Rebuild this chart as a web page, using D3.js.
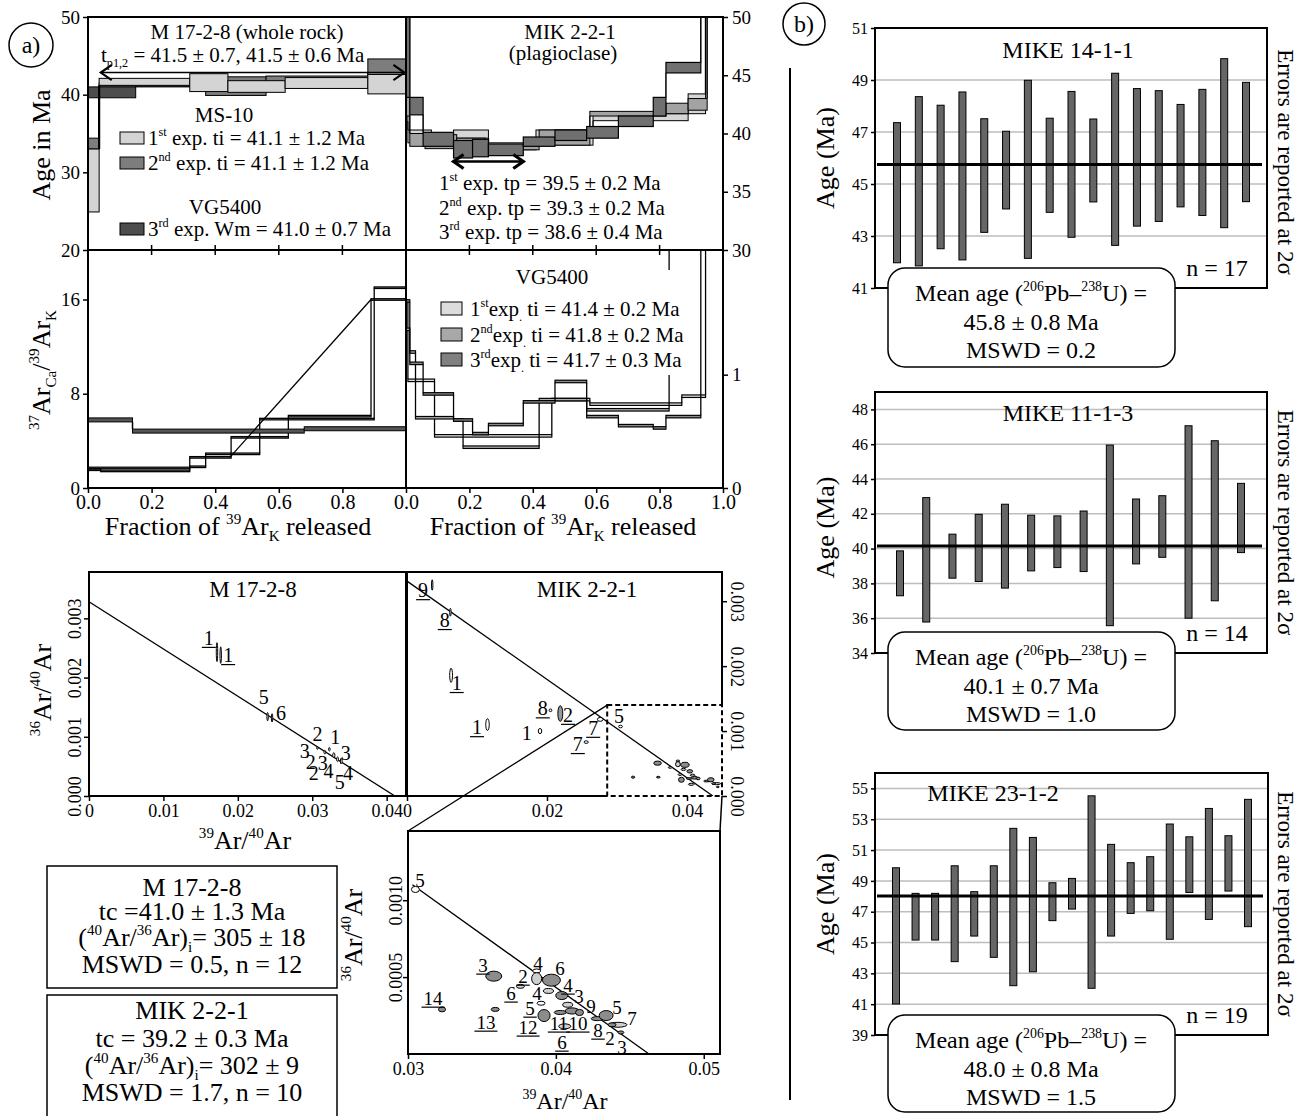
<!DOCTYPE html>
<html><head><meta charset="utf-8">
<script src="https://cdn.jsdelivr.net/npm/d3@7"></script>
<style>body{margin:0;background:#fff}</style>
</head><body>
<script>
// ================= DATA =================
// a) top-left: 40Ar/39Ar age spectra, M 17-2-8 (whole rock) — step edges (fraction 39Ar) and age lo/hi (Ma)
const ageWR_e1 = [0, 0.035, 0.32, 0.44, 0.62, 0.88, 1.0];
const ageWR_lo1 = [24.9, 41.2, 40.4, 40.3, 40.8, 40.1];
const ageWR_hi1 = [33.0, 42.1, 42.7, 41.8, 42.2, 42.6];
const ageWR_e2 = [0, 0.035, 0.37, 0.56, 0.88, 1.0];
const ageWR_lo2 = [33.0, 41.1, 39.9, 41.3, 42.8];
const ageWR_hi2 = [34.4, 41.5, 42.3, 42.4, 44.6];
const ageWR_e3 = [0, 0.15, 1.0];
const ageWR_lo3 = [39.6, 41.0];
const ageWR_hi3 = [41.0, 41.3];
const plateauWR = [0.04, 0.995];
const plateauWRAge = 42.85;

// a) top-right: MIK 2-2-1 (plagioclase)
const ageMik_e1 = [0, 0.006, 0.08, 0.15, 0.26, 0.41, 0.59, 0.89, 0.945, 1];
const ageMik_lo1 = [41.0, 39.2, 38.9, 39.6, 38.6, 39.0, 41.1, 41.7, 50.5];
const ageMik_hi1 = [60, 40.3, 39.6, 40.3, 39.2, 40.3, 41.7, 43.4, 60];
const ageMik_e2 = [0, 0.012, 0.06, 0.16, 0.25, 0.42, 0.58, 0.82, 0.89, 0.95, 1];
const ageMik_lo2 = [41.5, 38.9, 38.7, 38.3, 38.6, 39.0, 41.5, 41.7, 42.0, 50.5];
const ageMik_hi2 = [60, 40.0, 39.9, 39.6, 39.0, 40.3, 41.9, 42.6, 43.0, 60];
const ageMik_e3 = [0, 0.012, 0.054, 0.15, 0.21, 0.26, 0.37, 0.47, 0.57, 0.67, 0.78, 0.82, 0.93, 1];
const ageMik_lo3 = [43.1, 41.6, 38.9, 37.9, 38.0, 38.1, 38.9, 39.4, 39.6, 40.6, 41.5, 45.2, 50.5];
const ageMik_hi3 = [60, 43.1, 40.1, 39.4, 39.5, 39.1, 39.7, 40.3, 40.6, 41.5, 43.1, 46.1, 60];
const plateauMik = [0.15, 0.37];
const plateauMikAge = 37.6;

// a) 37ArCa/39ArK spectra
const caWR_eA = [0, 0.04, 0.32, 0.45, 0.63, 0.89, 1.0];
const caWR_vA = [1.55, 1.45, 2.6, 4.3, 6.1, 16.0];
const caWR_eB = [0, 0.32, 0.37, 0.54, 0.90, 1.0];
const caWR_vB = [1.7, 1.8, 2.9, 5.85, 17.0];
const caWR_eC = [0, 0.14, 0.68, 1.0];
const caWR_vC = [5.78, 4.83, 5.03];
const caWR_diagX = [0.446, 0.89];
const caWR_diagY = [2.6, 16.0];
const caMik_e1 = [0, 0.006, 0.09, 0.46, 0.58, 0.87, 0.945, 1];
const caMik_v1 = [1.65, 0.95, 0.46, 0.78, 0.74, 0.81, 3.0];
const caMik_e2 = [0, 0.012, 0.03, 0.15, 0.18, 0.42, 0.57, 0.83, 1];
const caMik_v2 = [1.4, 1.2, 0.62, 0.6, 0.36, 0.78, 0.69, 3.0];
const caMik_e3 = [0, 0.012, 0.054, 0.15, 0.21, 0.26, 0.37, 0.47, 0.57, 0.67, 0.78, 0.82, 0.93, 1];
const caMik_v3 = [1.65, 1.1, 0.83, 0.6, 0.48, 0.56, 0.76, 0.94, 0.63, 0.55, 0.53, 0.63, 3.0];

// a) inverse isochrons
const isoL_x = [0.0172, 0.0177, 0.0240, 0.0246, 0.0307, 0.0317, 0.0323, 0.0329, 0.0334, 0.0339];
const isoL_y = [0.00243, 0.00238, 0.00134, 0.00132, 0.00081, 0.00074, 0.00079, 0.00069, 0.00062, 0.00059];
const isoL_ex = [0.00008, 0.00008, 0.00008, 0.00008, 0.0001, 0.00012, 0.0001, 0.00015, 0.00012, 0.00012];
const isoL_ey = [0.00016, 0.00014, 0.00007, 0.00007, 0.00002, 0.00003, 0.00003, 0.00004, 0.00004, 0.00005];
const isoL_lab = ['1','1','5','6','2','1','3','3','2','3','2','4','4','5'];
const isoL_lx = [0.0161,0.0187,0.0235,0.0258,0.0307,0.0331,0.0290,0.0345,0.0298,0.0314,0.0302,0.0322,0.0348,0.0337];
const isoL_ly = [0.00267,0.00238,0.00167,0.00140,0.00105,0.00100,0.00076,0.00073,0.00057,0.00056,0.00039,0.00042,0.00039,0.00024];
const isoL_u = [1,1,0,0,0,0,0,0,0,0,0,0,0,0];
const isoL_line = [[0, 0.00328], [0.0411, 0]];

const isoR_x = [0.0036, 0.0062, 0.0063, 0.0115, 0.0190, 0.0205, 0.0219, 0.0276, 0.0256];
const isoR_y = [0.00325, 0.00283, 0.00186, 0.00110, 0.00100, 0.00132, 0.00127, 0.00118, 0.00083];
const isoR_ex = [0.00007, 0.00006, 0.0002, 0.00025, 0.00025, 0.0002, 0.00035, 0.0004, 0.0003];
const isoR_ey = [0.00008, 0.00006, 0.00011, 0.00009, 0.00004, 0.00002, 0.00012, 0.00003, 0.00002];
const isoR_f = [0, 0, 0, 0, 0, 0, 1, 0, 0];
const isoR_lab = ['9','8','1','1','1','8','2','7','7','5'];
const isoR_lx = [0.0023, 0.0054, 0.0071, 0.0100, 0.0171, 0.0194, 0.0230, 0.0266, 0.0244, 0.0303];
const isoR_ly = [0.00317, 0.00271, 0.00174, 0.00106, 0.00097, 0.00135, 0.00125, 0.00105, 0.00080, 0.00123];
const isoR_u = [1,1,1,1,0,1,1,1,1,0];
const isoR_line = [[0, 0.00331], [0.0437, 0]];
const zoomBox = [[0.0286, 0.0450], [0, 0.0014]];

const ins_x = [0.0305,0.0358,0.0387,0.0387,0.0397,0.0376,0.0395,0.0404,0.0390,0.0408,0.0392,0.0403,0.0411,0.0416,0.0428,0.0434,0.0442,0.0438,0.0444,0.0406,0.0359,0.0323];
const ins_y = [0.00107,0.000506,0.00054,0.00049,0.00048,0.00044,0.00041,0.00038,0.00033,0.00032,0.00025,0.00027,0.00028,0.00027,0.00023,0.00025,0.00019,0.00019,0.00014,0.00018,0.00029,0.00029];
const ins_ex = [0.00027,0.00054,0.00027,0.00034,0.00061,0.00027,0.00034,0.00041,0.00027,0.00034,0.00041,0.00041,0.00047,0.00027,0.00041,0.00047,0.00061,0.00027,0.0002,0.00041,0.00027,0.00024];
const ins_ey = [0.00002,0.0000325,0.000013,0.000039,0.000039,0.000013,0.000016,0.000026,0.000013,0.000016,0.000039,0.000013,0.00002,0.00002,0.000013,0.0000325,0.000016,0.000013,0.00001,0.000016,0.000013,0.000016];
const ins_f = [0,2,0,1,2,1,1,2,0,1,2,2,2,2,2,2,1,2,2,1,2,2];
const ins_lab = ['5','3','4','2','6','6','4','3','4','5','9','5','7','11','10','12','13','14','8','2','3','6'];
const ins_lx = [0.03081,0.03507,0.03879,0.03778,0.04028,0.03697,0.04082,0.04156,0.03872,0.03825,0.04238,0.04413,0.04515,0.04021,0.04150,0.03812,0.03527,0.03169,0.04285,0.04366,0.04447,0.04041];
const ins_ly = [0.00113,0.000579,0.000592,0.000507,0.000559,0.000397,0.000449,0.000377,0.000397,0.000299,0.000312,0.000306,0.000234,0.000202,0.000202,0.000176,0.000208,0.000364,0.000156,0.000104,0.0000455,0.000078];
const ins_u = [0,1,0,1,0,1,1,0,0,1,0,0,0,1,1,1,1,1,1,0,0,1];
const ins_line = [[0.0303, 0.00110], [0.0463, 0]];

// b) U-Pb zircon ages (2σ ranges)
const upb1_lo = [41.97, 41.85, 42.51, 42.08, 43.14, 44.04, 42.14, 43.91, 42.95, 44.31, 42.64, 43.38, 43.56, 44.12, 43.79, 43.32, 44.32];
const upb1_hi = [47.36, 48.36, 48.03, 48.54, 47.51, 47.03, 48.99, 47.53, 48.56, 47.50, 49.26, 48.67, 48.59, 48.06, 48.64, 49.82, 48.91];
const upb1_mean = 45.75;
const upb2_lo = [37.29, 35.78, 38.30, 38.11, 37.73, 38.72, 38.91, 38.68, 35.57, 39.12, 39.50, 36.0, 37.0, 39.77];
const upb2_hi = [39.87, 42.93, 40.83, 41.97, 42.55, 41.92, 41.88, 42.16, 45.95, 42.85, 43.04, 47.06, 46.2, 43.75];
const upb2_mean = 40.15;
const upb3_lo = [41.01, 45.16, 45.16, 43.76, 45.42, 44.04, 42.2, 43.1, 46.42, 47.17, 42.03, 45.42, 46.89, 47.06, 45.21, 48.25, 46.50, 48.34, 46.03];
const upb3_hi = [49.85, 48.19, 48.19, 49.98, 48.30, 49.98, 52.41, 51.82, 48.88, 49.16, 54.52, 51.37, 50.18, 50.57, 52.69, 51.86, 53.70, 51.93, 54.29];
const upb3_mean = 48.02;

// tick values
const ticksAgeWR = [20, 30, 40, 50];
const ticksAgeMik = [30, 35, 40, 45, 50];
const ticksCaWR = [0, 8, 16];
const ticksCaMik = [0, 1];
const ticksFracL = [0, 0.2, 0.4, 0.6, 0.8];
const ticksFracR = [0, 0.2, 0.4, 0.6, 0.8, 1.0];
const ticksIsoLX = [0, 0.01, 0.02, 0.03, 0.04];
const ticksIsoRX = [0, 0.02, 0.04];
const ticksIsoY = [0, 0.001, 0.002, 0.003];
const ticksInsX = [0.03, 0.04, 0.05];
const ticksInsY = [0.0005, 0.0010];

// ================= DRAWING =================
const FONT = '"Liberation Serif","Times New Roman",serif';
const svg = d3.select('body').append('svg').attr('width',1313).attr('height',1116)
  .style('font-family', FONT).style('background','#fff');
const defs = svg.append('defs');
let clipId = 0;
function clipG(x0,y0,x1,y1){
  const id='clip'+(clipId++);
  defs.append('clipPath').attr('id',id).append('rect').attr('x',x0).attr('y',y0).attr('width',x1-x0).attr('height',y1-y0);
  return svg.append('g').attr('clip-path',`url(#${id})`);
}
function rich(g, x, y, segs, size, anchor='middle', rot=0){
  const t = g.append('text').attr('x',x).attr('y',y).attr('font-size',size)
    .attr('text-anchor',anchor).attr('fill','#000').style('white-space','pre');
  if (rot) t.attr('transform',`rotate(${rot},${x},${y})`);
  let cur = 0;
  segs.forEach(s=>{
    const str = Array.isArray(s) ? s[0] : s;
    const kind = Array.isArray(s) ? s[1] : '';
    const target = kind==='sup' ? -0.42*size : kind==='sub' ? 0.22*size : 0;
    const ts = t.append('tspan').text(str);
    if (target!==cur) ts.attr('dy', target-cur);
    if (kind) ts.attr('font-size', (size*0.58).toFixed(1));
    cur = target;
  });
  return t;
}
function drawBoxes(g, boxes, fill, sw, cw){
  g.append('g').selectAll('rect').data(boxes).join('rect')
    .attr('x',d=>d.x0).attr('y',d=>d.yt).attr('width',d=>d.x1-d.x0).attr('height',d=>Math.max(0.5,d.yb-d.yt))
    .attr('fill',fill).attr('stroke','#000').attr('stroke-width',sw);
  const conns=[];
  for(let i=0;i<boxes.length-1;i++){
    const a=boxes[i], b=boxes[i+1];
    if (a.yt > b.yb) conns.push({x:a.x1, y0:a.yt, y1:b.yb});
    else if (a.yb < b.yt) conns.push({x:a.x1, y0:a.yb, y1:b.yt});
  }
  g.append('g').selectAll('line').data(conns).join('line')
    .attr('x1',d=>d.x).attr('x2',d=>d.x).attr('y1',d=>d.y0).attr('y2',d=>d.y1)
    .attr('stroke','#000').attr('stroke-width',cw);
}
function spectrum(g,xs,ys,edges,lo,hi,fill,sw,cw){
  drawBoxes(g, lo.map((l,i)=>({x0:xs(edges[i]),x1:xs(edges[i+1]),yt:ys(hi[i]),yb:ys(l)})), fill, sw, cw);
}
function bands(g,xs,ys,edges,vals,th,fill,sw,cw){
  drawBoxes(g, vals.map((v,i)=>({x0:xs(edges[i]),x1:xs(edges[i+1]),yt:ys(v)-th/2,yb:ys(v)+th/2})), fill, sw, cw);
}
function styleAxis(a, fs){
  a.attr('font-family',null).attr('font-size',null);
  a.select('.domain').remove();
  a.selectAll('text').attr('font-size',fs).attr('fill','#000');
  a.selectAll('line').attr('stroke','#000').attr('stroke-width',1.5);
  return a;
}
function arrow(g,x0,x1,y,sw,hs){
  g.append('line').attr('x1',x0).attr('x2',x1).attr('y1',y).attr('y2',y).attr('stroke','#000').attr('stroke-width',sw);
  g.append('path').attr('d',`M${x0+hs},${y-hs*0.7}L${x0},${y}L${x0+hs},${y+hs*0.7}`).attr('fill','none').attr('stroke','#000').attr('stroke-width',sw+0.6);
  g.append('path').attr('d',`M${x1-hs},${y-hs*0.7}L${x1},${y}L${x1-hs},${y+hs*0.7}`).attr('fill','none').attr('stroke','#000').attr('stroke-width',sw+0.6);
}
function frame(g,x0,y0,x1,y1,sw=2){
  g.append('rect').attr('x',x0).attr('y',y0).attr('width',x1-x0).attr('height',y1-y0).attr('fill','none').attr('stroke','#000').attr('stroke-width',sw);
}
function ellipses(g,xs,ys,X,Y,EX,EY,F,fills){
  g.append('g').selectAll('ellipse').data(d3.range(X.length)).join('ellipse')
    .attr('cx',i=>xs(X[i])).attr('cy',i=>ys(Y[i]))
    .attr('rx',i=>Math.max(0.7, Math.abs(xs(X[i]+EX[i])-xs(X[i]))))
    .attr('ry',i=>Math.max(0.7, Math.abs(ys(Y[i])-ys(Y[i]+EY[i]))))
    .attr('fill',i=>fills[F[i]]).attr('stroke','#000').attr('stroke-width',1);
}
function ptLabels(g,xs,ys,labs,lx,ly,u,fs){
  labs.forEach((t,i)=>{
    const X=xs(lx[i]), Y=ys(ly[i]);
    const txt = g.append('text').attr('x',X).attr('y',Y).attr('dy','0.35em').attr('text-anchor','middle').attr('font-size',fs).text(t);
    if (u[i]){
      const w = txt.node().getComputedTextLength()+4;
      g.append('line').attr('x1',X-w/2).attr('x2',X+w/2).attr('y1',Y+0.35*fs+2.5).attr('y2',Y+0.35*fs+2.5).attr('stroke','#000').attr('stroke-width',1.2);
    }
  });
}
function isoLine(g,xs,ys,pts){
  g.append('path').attr('d', d3.line().x(d=>xs(d[0])).y(d=>ys(d[1]))(pts)).attr('stroke','#000').attr('stroke-width',1.3).attr('fill','none');
}

// ---------- a) label ----------
svg.append('circle').attr('cx',31).attr('cy',45).attr('r',22).attr('fill','none').attr('stroke','#000').attr('stroke-width',1.5);
rich(svg,31,53,['a)'],24);

// ---------- top-left age spectrum ----------
const xWR = d3.scaleLinear([0,1],[88,406]);
const yAgeWR = d3.scaleLinear([20,50],[250,17]);
const gTL = clipG(88,17,406,250);
spectrum(gTL,xWR,yAgeWR,ageWR_e3,ageWR_lo3,ageWR_hi3,'#4d4d4d',1,2);
spectrum(gTL,xWR,yAgeWR,ageWR_e2,ageWR_lo2,ageWR_hi2,'#7d7d7d',1,1.5);
spectrum(gTL,xWR,yAgeWR,ageWR_e1,ageWR_lo1,ageWR_hi1,'#d4d4d4',1,2.2);
arrow(svg, xWR(plateauWR[0]), xWR(plateauWR[1]), yAgeWR(plateauWRAge), 1.5, 11);
rich(svg,247,39,['M 17-2-8 (whole rock)'],21);
rich(svg,101,62,['t',['p1,2','sub'],' = 41.5 ± 0.7, 41.5 ± 0.6 Ma'],21,'start');
rich(svg,224,122,['MS-10'],21);
rich(svg,225,214,['VG5400'],21);
const legWR = [{y:132,c:'#d4d4d4',s:[['1'],['st','sup'],[' exp. ti = 41.1 ± 1.2 Ma']]},
               {y:157,c:'#7d7d7d',s:[['2'],['nd','sup'],[' exp. ti = 41.1 ± 1.2 Ma']]},
               {y:223,c:'#4d4d4d',s:[['3'],['rd','sup'],[' exp. Wm = 41.0 ± 0.7 Ma']]}];
legWR.forEach(d=>{
  svg.append('rect').attr('x',120).attr('y',d.y).attr('width',24).attr('height',12).attr('fill',d.c).attr('stroke','#000').attr('stroke-width',1);
  rich(svg,148,d.y+13,d.s.map(s=>s.length>1?s:s[0]),21,'start');
});
styleAxis(svg.append('g').attr('transform','translate(88,0)').call(d3.axisLeft(yAgeWR).tickValues(ticksAgeWR).tickSize(5).tickPadding(3)),19);
rich(svg,50,145,['Age in Ma'],26,'middle',-90);

// ---------- top-right age spectrum ----------
const xMik = d3.scaleLinear([0,1],[406,723]);
const yAgeMik = d3.scaleLinear([30,50],[250,17]);
const gTR = clipG(406,17,723,250);
spectrum(gTR,xMik,yAgeMik,ageMik_e1,ageMik_lo1,ageMik_hi1,'#d6d6d6',1,1.5);
spectrum(gTR,xMik,yAgeMik,ageMik_e2,ageMik_lo2,ageMik_hi2,'#a3a3a3',1,1.5);
spectrum(gTR,xMik,yAgeMik,ageMik_e3,ageMik_lo3,ageMik_hi3,'#707070',1.2,1.5);
arrow(svg, xMik(plateauMik[0]), xMik(plateauMik[1]), yAgeMik(plateauMikAge), 2.6, 10);
rich(svg,570,39,['MIK 2-2-1'],21);
rich(svg,563,60,['(plagioclase)'],21);
rich(svg,439,190,['1',['st','sup'],' exp. tp = 39.5 ± 0.2 Ma'],21,'start');
rich(svg,439,215,['2',['nd','sup'],' exp. tp = 39.3 ± 0.2 Ma'],21,'start');
rich(svg,439,239,['3',['rd','sup'],' exp. tp = 38.6 ± 0.4 Ma'],21,'start');
styleAxis(svg.append('g').attr('transform','translate(723,0)').call(d3.axisRight(yAgeMik).tickValues(ticksAgeMik).tickSize(5).tickPadding(4)),19);

// ---------- middle-left Ca/K ----------
const yCaWR = d3.scaleLinear([0,20.2],[488,250]);
const gML = clipG(88,250,406,488);
bands(gML,xWR,yCaWR,caWR_eA,caWR_vA,1.5,'none',1.3,1.3);
bands(gML,xWR,yCaWR,caWR_eB,caWR_vB,1.5,'none',1.3,1.3);
bands(gML,xWR,yCaWR,caWR_eC,caWR_vC,4,'#555',1,1.5);
gML.append('line').attr('x1',xWR(caWR_diagX[0])).attr('y1',yCaWR(caWR_diagY[0])).attr('x2',xWR(caWR_diagX[1])).attr('y2',yCaWR(caWR_diagY[1])).attr('stroke','#000').attr('stroke-width',1.3);
styleAxis(svg.append('g').attr('transform','translate(88,0)').call(d3.axisLeft(yCaWR).tickValues(ticksCaWR).tickSize(5).tickPadding(3)),19);
styleAxis(svg.append('g').attr('transform','translate(0,488)').call(d3.axisBottom(xWR).tickValues(ticksFracL).tickFormat(d3.format('.1f')).tickSize(5).tickPadding(2)),20);
rich(svg,238,535,['Fraction of ',['39','sup'],'Ar',['K','sub'],' released'],26);
rich(svg,50,370,[['37','sup'],'Ar',['Ca','sub'],'/',['39','sup'],'Ar',['K','sub']],26,'middle',-90);

// ---------- middle-right Ca/K ----------
const yCaMik = d3.scaleLinear([0,2.1],[488,250]);
const gMR = clipG(406,250,723,488);
bands(gMR,xMik,yCaMik,caMik_e1,caMik_v1,2.5,'#e2e2e2',1.2,1.3);
bands(gMR,xMik,yCaMik,caMik_e2,caMik_v2,2.5,'#b0b0b0',1.2,1.3);
bands(gMR,xMik,yCaMik,caMik_e3,caMik_v3,2.5,'#8a8a8a',1.2,1.3);
svg.append('rect').attr('x',438).attr('y',270).attr('width',250).attr('height',105).attr('fill','#fff');
rich(svg,552,284,['VG5400'],21);
const legMik = [{y:302,c:'#dcdcdc',s:['1',['st','sup'],'exp',['.','sub'],' ti = 41.4 ± 0.2 Ma']},
                {y:328,c:'#a8a8a8',s:['2',['nd','sup'],'exp',['.','sub'],' ti = 41.8 ± 0.2 Ma']},
                {y:353,c:'#808080',s:['3',['rd','sup'],'exp',['.','sub'],' ti = 41.7 ± 0.3 Ma']}];
legMik.forEach(d=>{
  svg.append('rect').attr('x',441).attr('y',d.y).attr('width',21).attr('height',13).attr('fill',d.c).attr('stroke','#000').attr('stroke-width',1);
  rich(svg,470,d.y+14,d.s,21,'start');
});
styleAxis(svg.append('g').attr('transform','translate(723,0)').call(d3.axisRight(yCaMik).tickValues(ticksCaMik).tickFormat(d3.format('d')).tickSize(5).tickPadding(4)),19);
styleAxis(svg.append('g').attr('transform','translate(0,488)').call(d3.axisBottom(xMik).tickValues(ticksFracR).tickFormat(d3.format('.1f')).tickSize(5).tickPadding(2)),20);
rich(svg,563,535,['Fraction of ',['39','sup'],'Ar',['K','sub'],' released'],26);

// frames of the four spectra panels + crossing ticks
frame(svg,88,17,406,250); frame(svg,406,17,723,250);
frame(svg,88,250,406,488); frame(svg,406,250,723,488);
[[xWR,ticksFracL.slice(1)],[xMik,ticksFracL.slice(1)]].forEach(([xs,tv])=>{
  svg.append('g').selectAll('line').data(tv).join('line').attr('x1',xs).attr('x2',xs).attr('y1',245).attr('y2',255).attr('stroke','#000').attr('stroke-width',1.5);
});

// ---------- isochron left ----------
const xIsoL = d3.scaleLinear([0,0.0426],[89,406]);
const yIsoL = d3.scaleLinear([0,0.0038],[796,571]);
const gIL = clipG(89,572,406,796);
isoLine(gIL,xIsoL,yIsoL,isoL_line);
ellipses(gIL,xIsoL,yIsoL,isoL_x,isoL_y,isoL_ex,isoL_ey,isoL_x.map(()=>0),['#fff']);
ptLabels(gIL,xIsoL,yIsoL,isoL_lab,isoL_lx,isoL_ly,isoL_u,20);
frame(svg,89,572,406,796);
rich(svg,253,597,['M 17-2-8'],23);
styleAxis(svg.append('g').attr('transform','translate(0,796)').call(d3.axisBottom(xIsoL).tickValues(ticksIsoLX).tickFormat(d=>d===0?'0':d3.format('.2f')(d)).tickSize(5).tickPadding(3)),18);
const ayL = styleAxis(svg.append('g').attr('transform','translate(89,0)').call(d3.axisLeft(yIsoL).tickValues(ticksIsoY).tickFormat(d3.format('.3f')).tickSize(5)),18);
ayL.selectAll('text').attr('x',0).attr('dy',0).attr('text-anchor','middle').attr('transform','translate(-8,0) rotate(-90)');
rich(svg,245,849,[['39','sup'],'Ar/',['40','sup'],'Ar'],26);
rich(svg,51,690,[['36','sup'],'Ar/',['40','sup'],'Ar'],26,'middle',-90);

// ---------- isochron right ----------
const xIsoR = d3.scaleLinear([0,0.045],[407,722]);
const yIsoR = d3.scaleLinear([0,0.00345],[796,572]);
const gIR = clipG(407,572,722,796);
isoLine(gIR,xIsoR,yIsoR,isoR_line);
ellipses(gIR,xIsoR,yIsoR,isoR_x,isoR_y,isoR_ex,isoR_ey,isoR_f,['#fff','#999']);
ellipses(gIR,xIsoR,yIsoR,ins_x,ins_y,ins_ex,ins_ey,ins_f,['#fff','#cfcfcf','#8c8c8c']);
ptLabels(gIR,xIsoR,yIsoR,isoR_lab,isoR_lx,isoR_ly,isoR_u,20);
rich(svg,587,597,['MIK 2-2-1'],23);
const zx0 = xIsoR(zoomBox[0][0]), zx1 = xIsoR(zoomBox[0][1]), zy0 = yIsoR(zoomBox[1][1]), zy1 = yIsoR(zoomBox[1][0]);
svg.append('path').attr('d',`M${zx0},796L407,796L407,572L722,572L722,${zy0}`).attr('fill','none').attr('stroke','#000').attr('stroke-width',2);
svg.append('rect').attr('x',zx0).attr('y',zy0).attr('width',zx1-zx0).attr('height',zy1-zy0).attr('fill','none').attr('stroke','#000').attr('stroke-width',2).attr('stroke-dasharray','5,3');
styleAxis(svg.append('g').attr('transform','translate(0,796)').call(d3.axisBottom(xIsoR).tickValues(ticksIsoRX).tickFormat(d=>d===0?'0':d3.format('.2f')(d)).tickSize(5).tickPadding(3)),18);
const ayR = styleAxis(svg.append('g').attr('transform','translate(722,0)').call(d3.axisRight(yIsoR).tickValues(ticksIsoY).tickFormat(d3.format('.3f')).tickSize(5)),18);
ayR.selectAll('text').attr('x',0).attr('dy',0).attr('text-anchor','middle').attr('transform','translate(9,0) rotate(90)');

// ---------- inset ----------
const xIns = d3.scaleLinear([0.03,0.0511],[408,720]);
const yIns = d3.scaleLinear([0,0.00145],[1054,831]);
svg.append('line').attr('x1',zx0).attr('y1',zy0).attr('x2',408).attr('y2',831).attr('stroke','#000').attr('stroke-width',1.3);
svg.append('line').attr('x1',zx1).attr('y1',zy1).attr('x2',720).attr('y2',831).attr('stroke','#000').attr('stroke-width',1.5);
const gIn = clipG(408,831,720,1054);
isoLine(gIn,xIns,yIns,ins_line);
ellipses(gIn,xIns,yIns,ins_x,ins_y,ins_ex,ins_ey,ins_f,['#fff','#cfcfcf','#8c8c8c']);
ptLabels(gIn,xIns,yIns,ins_lab,ins_lx,ins_ly,ins_u,19);
frame(svg,408,831,720,1054);
styleAxis(svg.append('g').attr('transform','translate(0,1054)').call(d3.axisBottom(xIns).tickValues(ticksInsX).tickFormat(d3.format('.2f')).tickSize(5).tickPadding(3)),18);
const ayI = styleAxis(svg.append('g').attr('transform','translate(408,0)').call(d3.axisLeft(yIns).tickValues(ticksInsY).tickFormat(d3.format('.4f')).tickSize(5)),18);
ayI.selectAll('text').attr('x',0).attr('dy',0).attr('text-anchor','middle').attr('transform','translate(-6,0) rotate(-90)');
rich(svg,565,1109,[['39','sup'],'Ar/',['40','sup'],'Ar'],24);
rich(svg,362,935,[['36','sup'],'Ar/',['40','sup'],'Ar'],26,'middle',-90);

// ---------- result boxes ----------
frame(svg,47,866,337,988,1.5);
rich(svg,192,896,['M 17-2-8'],26);
rich(svg,192,920,['tc =41.0 ± 1.3 Ma'],26);
rich(svg,192,946,['(',['40','sup'],'Ar/',['36','sup'],'Ar)',['i','sub'],'= 305 ± 18'],26);
rich(svg,192,973,['MSWD = 0.5, n = 12'],26);
frame(svg,47,995,337,1130,1.5);
rich(svg,192,1019,['MIK 2-2-1'],26);
rich(svg,192,1047,['tc = 39.2 ± 0.3 Ma'],26);
rich(svg,192,1074,['(',['40','sup'],'Ar/',['36','sup'],'Ar)',['i','sub'],'= 302 ± 9'],26);
rich(svg,192,1101,['MSWD = 1.7, n = 10'],26);

// ---------- b) ----------
svg.append('circle').attr('cx',804).attr('cy',24).attr('r',21).attr('fill','none').attr('stroke','#000').attr('stroke-width',1.5);
rich(svg,804,32,['b)'],24);
svg.append('line').attr('x1',790).attr('x2',790).attr('y1',68).attr('y2',1100).attr('stroke','#000').attr('stroke-width',2);

function upbPanel(c){
  const y = d3.scaleLinear(c.domain,[c.y1,c.y0]);
  const x = d3.scalePoint(d3.range(c.lo.length), c.xr);
  const g = svg.append('g');
  g.selectAll('.grid').data(c.grid).join('line').attr('x1',c.x0).attr('x2',c.x1).attr('y1',y).attr('y2',y).attr('stroke','#bdbdbd').attr('stroke-width',1.5);
  rich(g,c.tx,c.ty,[c.title],24);
  g.selectAll('.bar').data(c.lo).join('rect')
    .attr('x',(d,i)=>x(i)-3.5).attr('width',7)
    .attr('y',(d,i)=>y(c.hi[i])).attr('height',(d,i)=>y(d)-y(c.hi[i]))
    .attr('fill','#666').attr('stroke','#000').attr('stroke-width',1);
  g.append('line').attr('x1',c.x0+2).attr('x2',c.x1-5).attr('y1',y(c.mean)).attr('y2',y(c.mean)).attr('stroke','#000').attr('stroke-width',3);
  frame(g,c.x0,c.y0,c.x1,c.y1,2);
  styleAxis(g.append('g').attr('transform',`translate(${c.x0},0)`).call(d3.axisLeft(y).tickValues(c.ticks).tickSize(4).tickPadding(3)),16);
  rich(g,1217,c.y1-12,[c.n],24);
  g.append('rect').attr('x',888).attr('y',c.by).attr('width',287).attr('height',c.bh).attr('rx',17).attr('ry',17).attr('fill','#fff').attr('stroke','#000').attr('stroke-width',1.5);
  rich(g,1031,c.by+33,['Mean age (',['206','sup'],'Pb–',['238','sup'],'U) ='],24);
  rich(g,1031,c.by+62,[c.age],24);
  rich(g,1031,c.by+90,[c.mswd],24);
  rich(g,834,(c.y0+c.y1)/2+ (c.ly||0),['Age (Ma)'],26,'middle',-90);
  rich(g,1278,(c.y0+c.y1)/2+ (c.ey||0),['Errors are reported at 2σ'],23,'middle',90);
}
upbPanel({x0:875,x1:1267,y0:28,y1:288,domain:[41,51],ticks:[41,43,45,47,49,51],grid:[43,45,47,49],
  xr:[897,1246],lo:upb1_lo,hi:upb1_hi,mean:upb1_mean,title:'MIKE 14-1-1',tx:1068,ty:58,n:'n = 17',
  by:268,bh:99,age:'45.8 ± 0.8 Ma',mswd:'MSWD = 0.2',ly:0,ey:4});
upbPanel({x0:875,x1:1267,y0:392,y1:653,domain:[34,49],ticks:[34,36,38,40,42,44,46,48],grid:[36,38,40,42,44,46,48],
  xr:[900,1241],lo:upb2_lo,hi:upb2_hi,mean:upb2_mean,title:'MIKE 11-1-3',tx:1068,ty:421,n:'n = 14',
  by:632,bh:98,age:'40.1 ± 0.7 Ma',mswd:'MSWD = 1.0',ly:5,ey:0});
upbPanel({x0:875,x1:1268,y0:773,y1:1035,domain:[39,56],ticks:[39,41,43,45,47,49,51,53,55],grid:[41,43,45,47,49,51,53,55],
  xr:[896,1248],lo:upb3_lo,hi:upb3_hi,mean:upb3_mean,title:'MIKE 23-1-2',tx:993,ty:801,n:'n = 19',
  by:1015,bh:97,age:'48.0 ± 0.8 Ma',mswd:'MSWD = 1.5',ly:0,ey:0});
</script></body></html>
